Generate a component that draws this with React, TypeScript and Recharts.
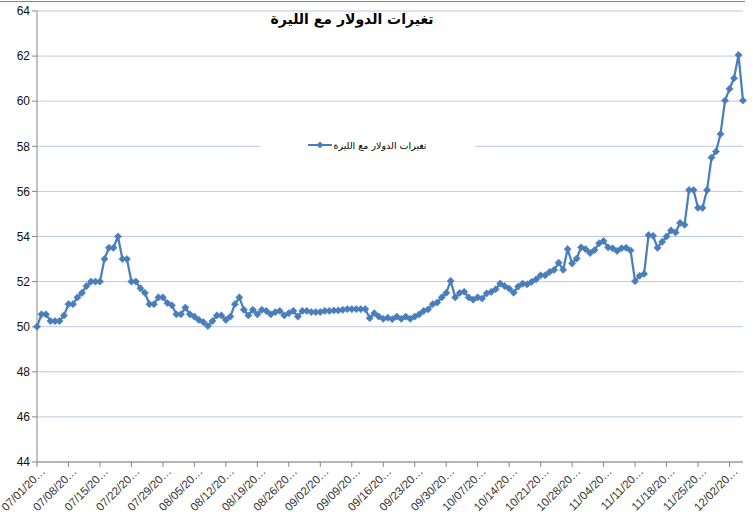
import React from "react";
import { LineChart, Line, XAxis, YAxis, CartesianGrid } from "recharts";

// Daily USD rate against the lira, 2011
const TITLE = "تغيرات الدولار مع الليرة";
const SERIES_NAME = "تغيرات الدولار مع الليرة";
const YEAR = 2011;
const MONTHS = [7, 8, 9, 10, 11, 12];

const julyRates = [
	50.0, 50.55, 50.55, 50.25, 50.25, 50.25, 50.5, 51.0, 51.0, 51.3,
	51.5, 51.8, 52.0, 52.0, 52.0, 53.0, 53.5, 53.5, 54.0, 53.0,
	53.0, 52.0, 52.0, 51.7, 51.5, 51.0, 51.0, 51.3, 51.3, 51.05,
	50.95,
];
const augustRates = [
	50.55, 50.55, 50.85, 50.55, 50.45, 50.3, 50.2, 50.03, 50.25, 50.5,
	50.5, 50.3, 50.45, 51.0, 51.3, 50.75, 50.5, 50.75, 50.55, 50.75,
	50.7, 50.55, 50.65, 50.7, 50.5, 50.6, 50.7, 50.45, 50.7, 50.7,
	50.65,
];
const septemberRates = [
	50.65, 50.65, 50.7, 50.7, 50.72, 50.72, 50.75, 50.78, 50.78, 50.78,
	50.78, 50.78, 50.38, 50.6, 50.45, 50.35, 50.4, 50.33, 50.45, 50.35,
	50.45, 50.35, 50.45, 50.55, 50.7, 50.77, 51.0, 51.07, 51.3, 51.5,
];
const octoberRates = [
	52.03, 51.3, 51.5, 51.55, 51.3, 51.2, 51.3, 51.25, 51.48, 51.54,
	51.66, 51.91, 51.8, 51.69, 51.51, 51.78, 51.91, 51.88, 51.99, 52.1,
	52.28, 52.28, 52.43, 52.52, 52.84, 52.52, 53.44, 52.8, 53.02, 53.52,
	53.44,
];
const novemberRates = [
	53.27, 53.4, 53.7, 53.8, 53.52, 53.48, 53.36, 53.48, 53.5, 53.38,
	52.02, 52.26, 52.34, 54.06, 54.03, 53.5, 53.76, 54.0, 54.27, 54.18,
	54.6, 54.52, 56.06, 56.06, 55.27, 55.27, 56.06, 57.5, 57.77, 58.54,
];
const decemberRates = [60.03, 60.55, 61.02, 62.05, 60.03];

const Y_TICKS = [44, 46, 48, 50, 52, 54, 56, 58, 60, 62, 64];

const pad = (n: number) => (n < 10 ? `0${n}` : `${n}`);

const monthRates = [julyRates, augustRates, septemberRates, octoberRates, novemberRates, decemberRates];
const data = monthRates.flatMap((rates, m) =>
	rates.map((rate, d) => ({
		date: `${pad(MONTHS[m])}/${pad(d + 1)}/${YEAR}`,
		rate,
	}))
);

const BLUE = "#4a7ebb";
const GRID = "#b9c9e5";
const AXIS = "#868686";

const Diamond = (props: any) => {
	const { cx, cy, index } = props;
	if (cx == null || cy == null) return null;
	const r = 3.6;
	return (
		<path
			key={index}
			d={`M${cx},${cy - r}L${cx + r},${cy}L${cx},${cy + r}L${cx - r},${cy}Z`}
			fill={BLUE}
			stroke={BLUE}
			strokeWidth={0.6}
		/>
	);
};

const DateTick = ({ x, y, payload }: any) => {
	const label = String(payload.value).slice(0, 8) + "…";
	return (
		<text
			x={0}
			y={0}
			transform={`translate(${x + 9},${y + 3}) rotate(-45)`}
			textAnchor="end"
			fontSize={11.5}
			fontFamily="Liberation Sans, Arial, sans-serif"
			fill="#333"
		>
			{label}
		</text>
	);
};

export default function App() {
	return (
		<div style={{ position: "relative", width: 753, height: 518, background: "#fff" }}>
			<style>{`body{margin:0}`}</style>
			<div
				style={{
					position: "absolute",
					left: 0,
					top: 1,
					width: 745,
					borderTop: `1px solid ${AXIS}`,
				}}
			/>
			<LineChart
				width={753}
				height={518}
				data={data}
				margin={{ top: 11, right: 10, bottom: 0, left: 0 }}
			>
				<CartesianGrid vertical={false} stroke={GRID} strokeWidth={1} />
				<XAxis
					dataKey="date"
					interval={6}
					height={56}
					tick={<DateTick />}
					tickSize={5}
					axisLine={{ stroke: AXIS }}
					tickLine={{ stroke: AXIS }}
				/>
				<YAxis
					domain={[44, 64]}
					ticks={Y_TICKS}
					width={37}
					tickSize={5}
					tickMargin={2}
					axisLine={{ stroke: AXIS }}
					tickLine={{ stroke: AXIS }}
					tick={{ fontSize: 12, fill: "#111", fontFamily: "Liberation Sans, Arial, sans-serif" }}
				/>
				<Line
					type="linear"
					dataKey="rate"
					name={SERIES_NAME}
					stroke={BLUE}
					strokeWidth={2.25}
					dot={<Diamond />}
					isAnimationActive={false}
				/>
			</LineChart>
			{/* legend box sits inside the plot area, over a gridline */}
			<div
				style={{
					position: "absolute",
					left: 260,
					top: 137,
					width: 215,
					height: 16,
					background: "#fff",
					display: "flex",
					alignItems: "center",
					justifyContent: "center",
					direction: "ltr",
				}}
			>
				<svg width={24} height={10} style={{ marginRight: 1 }}>
					<line x1={0} y1={5} x2={24} y2={5} stroke={BLUE} strokeWidth={2} />
					<path d="M12,1.5L15.5,5L12,8.5L8.5,5Z" fill={BLUE} />
				</svg>
				<span
					style={{
						fontFamily: "DejaVu Sans, sans-serif",
						fontSize: 9.5,
						color: "#000",
						direction: "rtl",
					}}
				>
					{SERIES_NAME}
				</span>
			</div>
			<div
				style={{
					position: "absolute",
					left: 252,
					top: 11,
					width: 200,
					textAlign: "center",
					fontFamily: "DejaVu Sans, sans-serif",
					fontWeight: "bold",
					fontSize: 14,
					color: "#000",
					direction: "rtl",
				}}
			>
				{TITLE}
			</div>
		</div>
	);
}
